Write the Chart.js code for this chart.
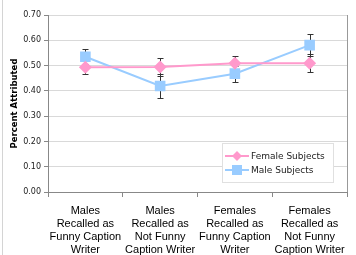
<!DOCTYPE html>
<html>
<head>
<meta charset="utf-8">
<script src="https://cdn.jsdelivr.net/npm/chart.js@4"></script>
<style>
  html, body { margin: 0; padding: 0; background: #fff; }
  #wrap { width: 356px; height: 255px; position: relative; }
</style>
</head>
<body>
<div id="wrap"><canvas id="chart" width="356" height="255"></canvas></div>
<script>
// categories (x axis, multi-line)
const categories = [
    ['Males', 'Recalled as', 'Funny Caption', 'Writer'],
    ['Males', 'Recalled as', 'Not Funny', 'Caption Writer'],
    ['Females', 'Recalled as', 'Funny Caption', 'Writer'],
    ['Females', 'Recalled as', 'Not Funny', 'Caption Writer']
];

// series values
const femaleValues = [0.493, 0.494, 0.509, 0.509];
const femaleErrors = [0.026, 0.035, 0.027, 0.036];
const maleValues = [0.535, 0.419, 0.468, 0.581];
const maleErrors = [0.030, 0.046, 0.032, 0.045];

// y axis ticks
const yTicks = ['0.00', '0.10', '0.20', '0.30', '0.40', '0.50', '0.60', '0.70'];

const pink = '#ff99cc';
const blue = '#99ccff';

// error bars, drawn through the y scale
const errorBars = {
    id: 'errorBars',
    beforeDatasetsDraw(chart) {
        const ctx = chart.ctx;
        const yScale = chart.scales.y;
        ctx.save();
        ctx.strokeStyle = '#333';
        ctx.lineWidth = 1;
        chart.data.datasets.forEach((ds, i) => {
            const meta = chart.getDatasetMeta(i);
            meta.data.forEach((pt, j) => {
                const v = ds.data[j], e = ds.errors[j];
                const x = Math.round(pt.x) + 0.5;
                const yTop = Math.round(yScale.getPixelForValue(v + e)) + 0.5;
                const yBot = Math.round(yScale.getPixelForValue(v - e)) + 0.5;
                ctx.beginPath();
                ctx.moveTo(x, yTop); ctx.lineTo(x, yBot);
                ctx.moveTo(x - 3, yTop); ctx.lineTo(x + 3, yTop);
                ctx.moveTo(x - 3, yBot); ctx.lineTo(x + 3, yBot);
                ctx.stroke();
            });
        });
        ctx.restore();
    }
};

// frame lines and the legend inside the plot
const frameAndLegend = {
    id: 'frameAndLegend',
    afterDraw(chart) {
        const ctx = chart.ctx;
        const a = chart.chartArea;
        ctx.save();
        // outer border on the left
        ctx.strokeStyle = '#d4d4d4';
        ctx.lineWidth = 1;
        ctx.beginPath();
        ctx.moveTo(2.5, 0); ctx.lineTo(2.5, 255);
        ctx.stroke();
        // right edge of plot area
        ctx.strokeStyle = '#999';
        ctx.beginPath();
        ctx.moveTo(Math.round(a.right) + 0.5, a.top); ctx.lineTo(Math.round(a.right) + 0.5, a.bottom);
        ctx.stroke();

        // legend box
        const lx = 222, ly = 143, lw = 111, lh = 39;
        ctx.fillStyle = '#fff';
        ctx.fillRect(lx, ly, lw, lh);
        ctx.strokeStyle = '#e0e0e0';
        ctx.strokeRect(lx + 0.5, ly + 0.5, lw, lh);
        ctx.font = '9px "DejaVu Sans"';
        ctx.textBaseline = 'middle';
        chart.data.datasets.forEach((ds, i) => {
            const y = 156 + i * 14;
            ctx.strokeStyle = ds.borderColor;
            ctx.lineWidth = 2;
            ctx.beginPath();
            ctx.moveTo(225, y); ctx.lineTo(249, y);
            ctx.stroke();
            ctx.fillStyle = ds.borderColor;
            if (ds.pointStyle === 'rectRot') {
                ctx.beginPath();
                ctx.moveTo(237, y - 5); ctx.lineTo(242, y); ctx.lineTo(237, y + 5); ctx.lineTo(232, y);
                ctx.closePath();
                ctx.fill();
            } else {
                ctx.fillRect(232, y - 5, 10, 10);
            }
            ctx.fillStyle = '#222';
            ctx.fillText(ds.label, 251, y + 0.5);
        });
        ctx.restore();
    }
};

new Chart(document.getElementById('chart').getContext('2d'), {
    type: 'line',
    data: {
        labels: categories,
        datasets: [{
            label: 'Female Subjects',
            data: femaleValues,
            errors: femaleErrors,
            borderColor: pink,
            backgroundColor: pink,
            borderWidth: 2,
            pointStyle: 'rectRot',
            pointRadius: 6.5,
            pointBorderWidth: 0,
            tension: 0
        }, {
            label: 'Male Subjects',
            data: maleValues,
            errors: maleErrors,
            borderColor: blue,
            backgroundColor: blue,
            borderWidth: 2,
            pointStyle: 'rect',
            pointRadius: 7.5,
            pointBorderWidth: 0,
            tension: 0
        }]
    },
    options: {
        responsive: false,
        animation: false,
        layout: { padding: { top: 15, right: 9, left: 0, bottom: 0 } },
        plugins: {
            legend: { display: false },
            tooltip: { enabled: false }
        },
        scales: {
            x: {
                offset: true,
                grid: {
                    offset: true,
                    drawOnChartArea: false,
                    drawTicks: true,
                    tickLength: 5,
                    tickColor: '#888'
                },
                border: { color: '#888' },
                ticks: {
                    color: '#000',
                    font: { family: '"Liberation Sans"', size: 11, lineHeight: 1.17 },
                    padding: 8,
                    maxRotation: 0,
                    autoSkip: false
                },
                afterFit(scale) { scale.height = 63; }
            },
            y: {
                min: 0,
                max: 0.7,
                grid: {
                    color: '#d9d9d9',
                    tickColor: '#888',
                    tickLength: 4
                },
                border: { color: '#888' },
                ticks: {
                    stepSize: 0.1,
                    color: '#222',
                    font: { family: '"DejaVu Sans"', size: 8 },
                    padding: 3,
                    callback: (v, i) => yTicks[i]
                },
                title: {
                    display: true,
                    text: 'Percent Attributed',
                    color: '#000',
                    font: { family: '"DejaVu Sans"', size: 8.5, weight: 'bold' },
                    padding: { top: 10, bottom: 0 }
                },
                afterFit(scale) { scale.width = 48; }
            }
        }
    },
    plugins: [errorBars, frameAndLegend]
});
</script>
</body>
</html>
